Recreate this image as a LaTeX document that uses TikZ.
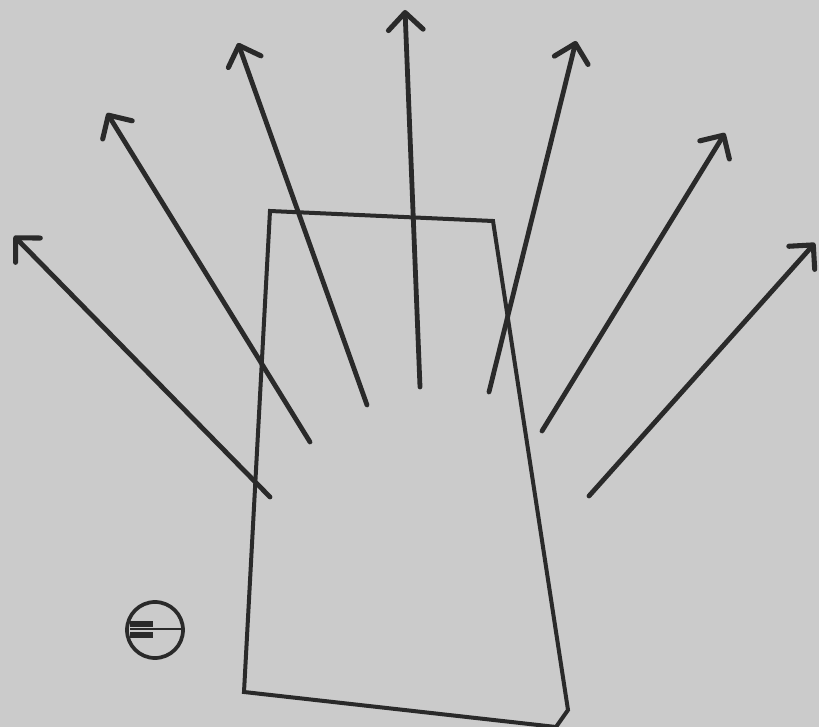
\documentclass[tikz,border=0pt]{standalone}
\usetikzlibrary{arrows.meta}
\definecolor{paper}{HTML}{CBCBCB}
\definecolor{ink}{HTML}{2A2A2A}
\tikzset{
  ray/.style={draw=ink, line width=3.6pt, line cap=round,
    -{Straight Barb[length=13pt,width=26pt,line width=3.8pt,round]}},
  outline/.style={draw=ink, line width=3pt, line join=miter},
}
\begin{document}
\begin{tikzpicture}[x=0.75pt,y=-0.75pt]
\fill[paper] (0,0) rectangle (819,727);
\useasboundingbox (0,0) rectangle (819,727);
% trapezoid outline
\coordinate (tl) at (270,211);
\coordinate (tr) at (493,221);
\coordinate (br) at (568,710);
\coordinate (bc) at (556,727);
\coordinate (bl) at (244,692);
\draw[outline] (tl) -- (tr) -- (br) -- (bc) -- (bl) -- cycle;
% rays
\coordinate (t1) at (270,497); \coordinate (h1) at (14,236);
\coordinate (t2) at (310,442); \coordinate (h2) at (107,113);
\coordinate (t3) at (367,405); \coordinate (h3) at (238,43);
\coordinate (t4) at (420,387); \coordinate (h4) at (405,10);
\coordinate (t5) at (489,392); \coordinate (h5) at (576,41);
\coordinate (t6) at (542,431); \coordinate (h6) at (725,133);
\coordinate (t7) at (589,496); \coordinate (h7) at (815,243);
\foreach \i in {1,...,7} {\draw[ray] (t\i) -- (h\i);}
% small circular symbol
\coordinate (cc) at (155,630);
\draw[ink, line width=2.8pt] (cc) circle[radius=28];
\draw[ink, line width=2pt] (130,629) -- (183,629);
\fill[ink] (130,621) rectangle (153,627);
\fill[ink] (130,632) rectangle (153,638);
\end{tikzpicture}
\end{document}
